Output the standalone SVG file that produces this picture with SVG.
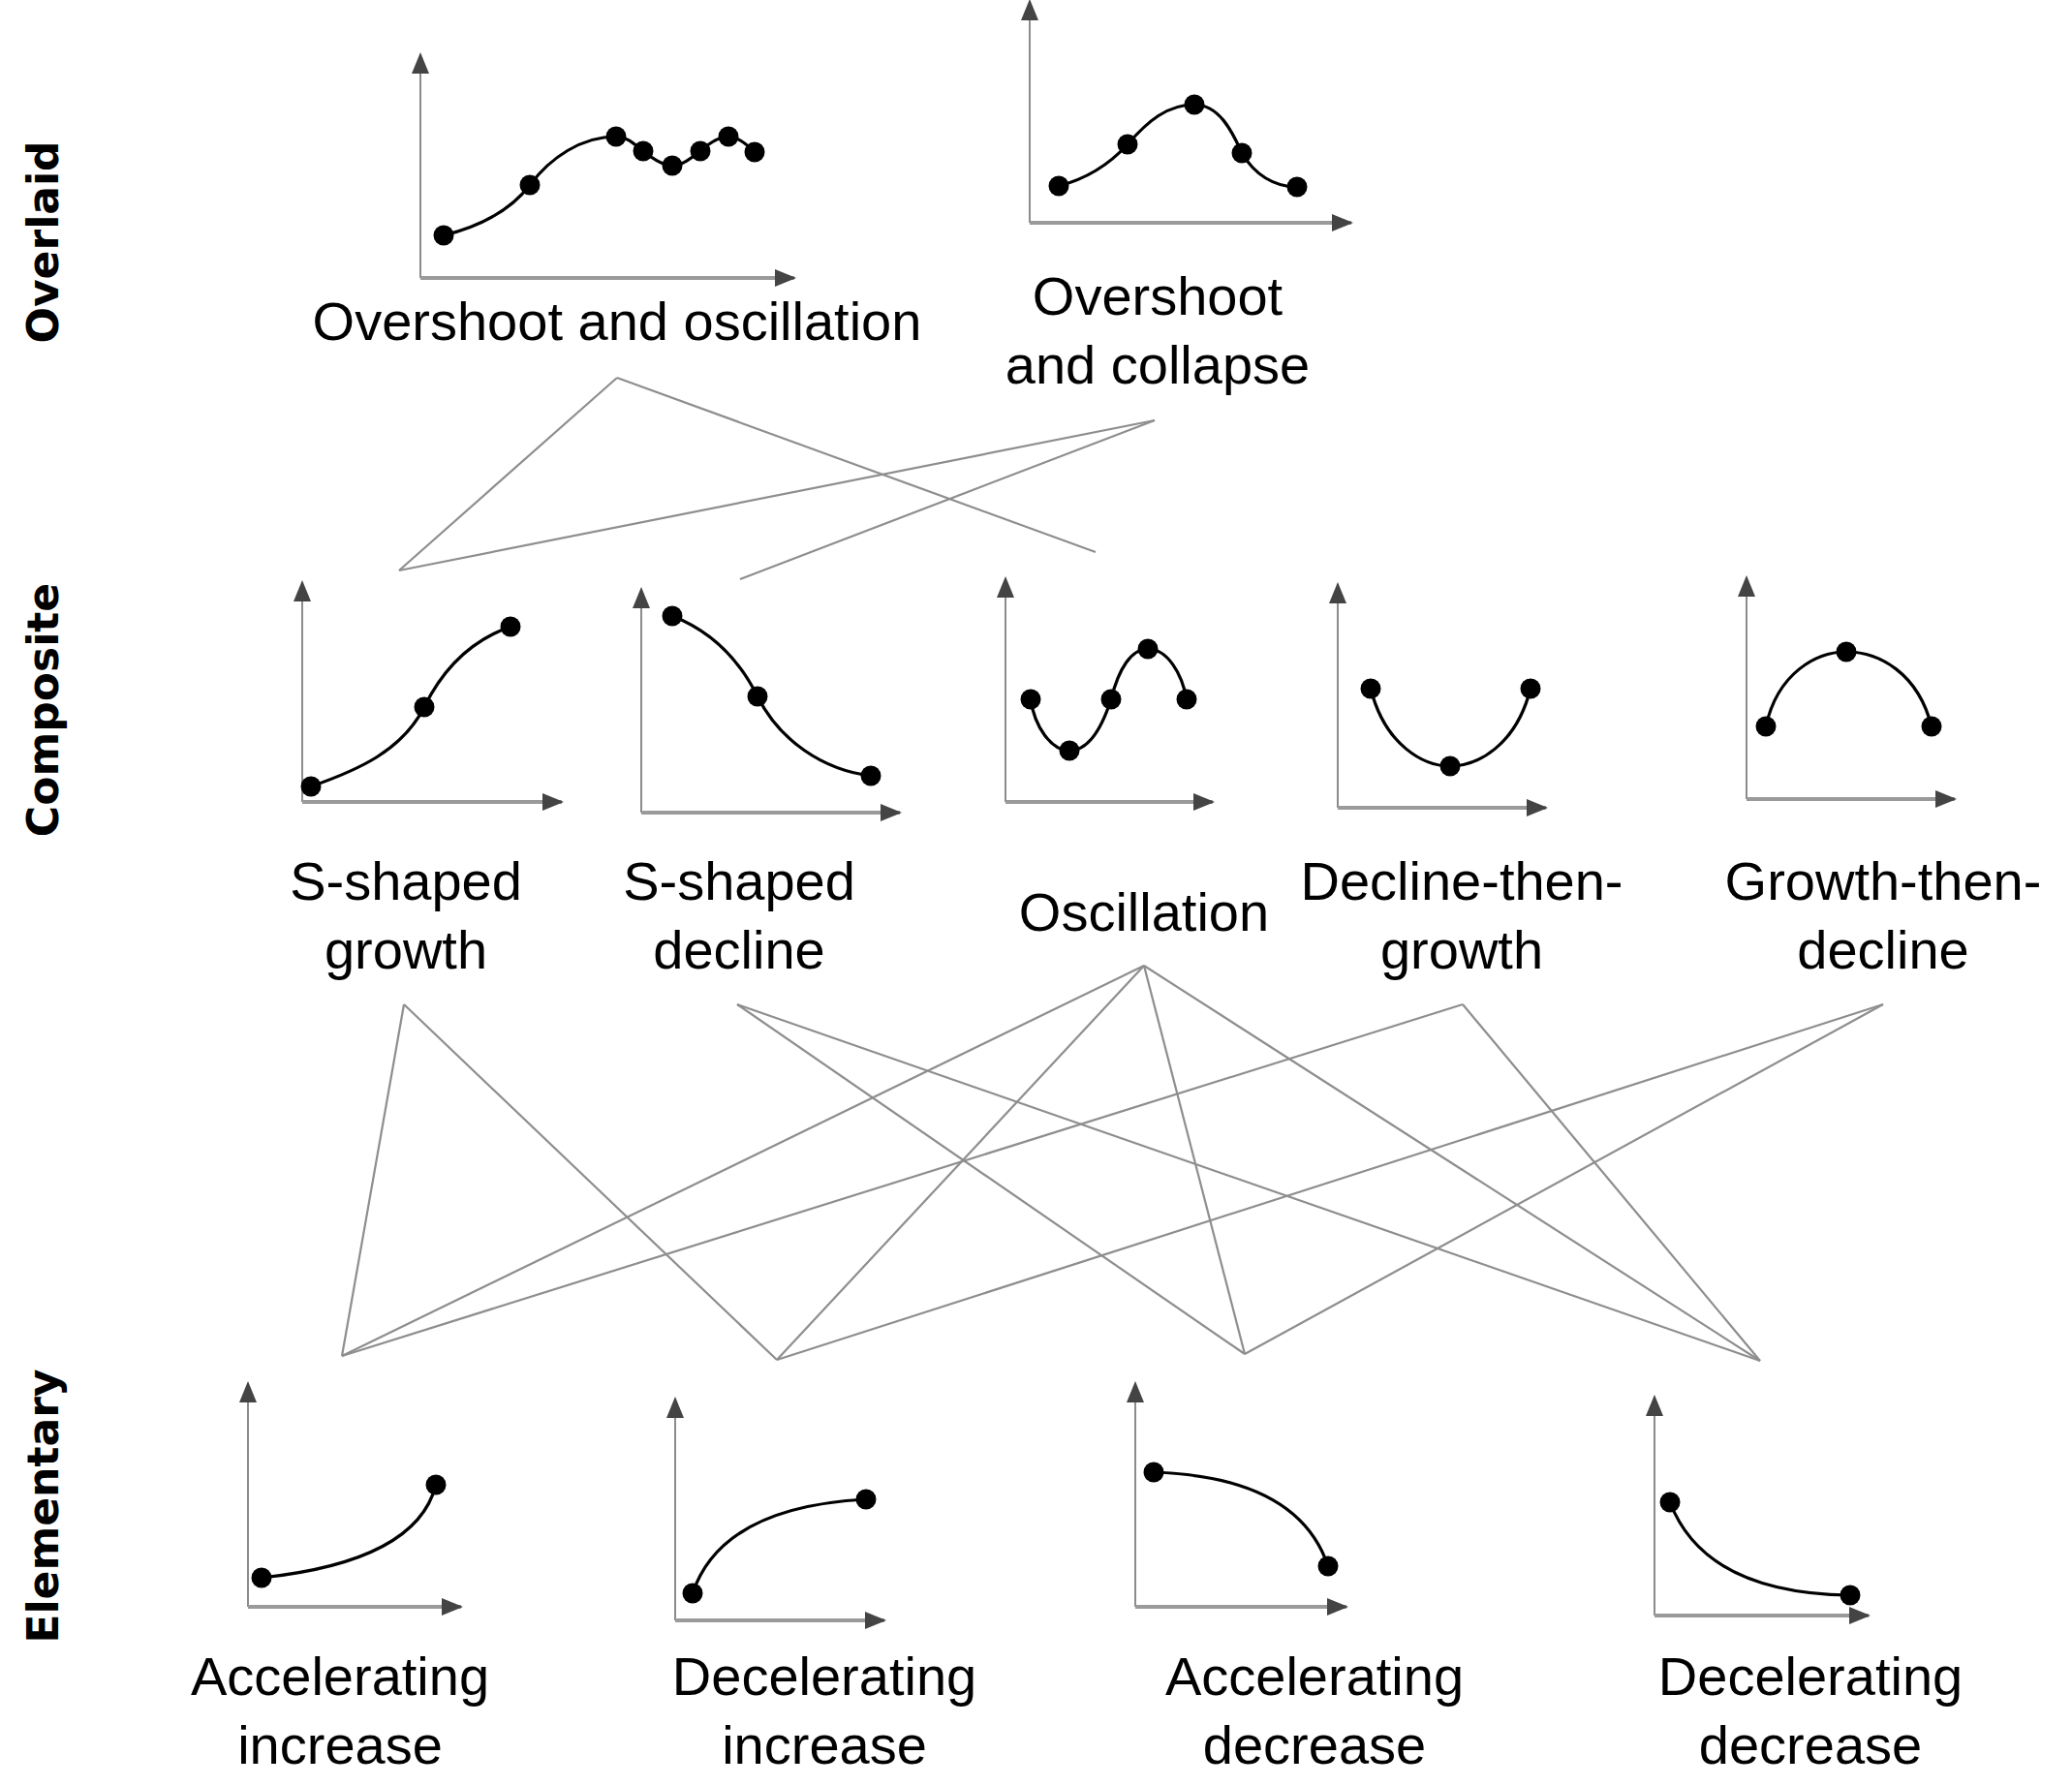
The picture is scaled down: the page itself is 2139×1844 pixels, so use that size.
<svg xmlns="http://www.w3.org/2000/svg" width="2139" height="1844" viewBox="0 0 2139 1844">
<defs>
<marker id="ah" markerUnits="userSpaceOnUse" markerWidth="24" markerHeight="20" refX="20" refY="9" orient="auto">
<path d="M0,0 L22,9 L0,18 Z" fill="#444"/>
</marker>
<style>
.yax{stroke:#8c8c8c;stroke-width:2;fill:none;marker-end:url(#ah)}
.xax{stroke:#9a9a9a;stroke-width:4;fill:none;marker-end:url(#ah)}
.crv{stroke:#000;stroke-width:3.2;fill:none}
.dot{fill:#000}
.lbl{font-family:"Liberation Sans",Arial,sans-serif;font-size:56px;fill:#000;text-anchor:middle}
.row{font-family:"DejaVu Sans",Verdana,sans-serif;font-weight:bold;font-size:44px;fill:#000;text-anchor:middle;dominant-baseline:central}
.con{stroke:#8e8e8e;stroke-width:2.2;fill:none}
</style>
</defs>
<rect width="2139" height="1844" fill="#fff"/>

<g id="row-labels">
<text class="row" transform="translate(44,250) rotate(-90)">Overlaid</text>
<text class="row" transform="translate(44,733) rotate(-90)">Composite</text>
<text class="row" transform="translate(44,1555) rotate(-90)">Elementary</text>
</g>

<g id="connectors">
<line class="con" x1="637" y1="390" x2="412" y2="589"/>
<line class="con" x1="637" y1="390" x2="1131" y2="570"/>
<line class="con" x1="1192" y1="434" x2="412" y2="589"/>
<line class="con" x1="1192" y1="434" x2="764" y2="598"/>

<line class="con" x1="417" y1="1037" x2="353" y2="1400"/>
<line class="con" x1="417" y1="1037" x2="802" y2="1404"/>
<line class="con" x1="761" y1="1037" x2="1285" y2="1398"/>
<line class="con" x1="761" y1="1037" x2="1817" y2="1405"/>
<line class="con" x1="1181" y1="997" x2="353" y2="1400"/>
<line class="con" x1="1181" y1="997" x2="802" y2="1404"/>
<line class="con" x1="1181" y1="997" x2="1285" y2="1398"/>
<line class="con" x1="1181" y1="997" x2="1817" y2="1405"/>
<line class="con" x1="1510" y1="1037" x2="353" y2="1400"/>
<line class="con" x1="1510" y1="1037" x2="1817" y2="1405"/>
<line class="con" x1="1944" y1="1037" x2="802" y2="1404"/>
<line class="con" x1="1944" y1="1037" x2="1285" y2="1398"/>
</g>

<g id="overshoot-and-oscillation">
<line class="yax" x1="434" y1="287" x2="434" y2="56"/>
<line class="xax" x1="434" y1="287" x2="820" y2="287"/>
<path class="crv" d="M458,243 C490,235 525,220 547,191 C568,163 600,141 636,141 C648,141 656,150 664,156 C674,164 684,171 694,171 C704,171 714,163 723,156 C732,148 742,141 752,141 C762,141 772,150 779,157"/>
<circle class="dot" cx="458" cy="243" r="10.5"/>
<circle class="dot" cx="547" cy="191" r="10.5"/>
<circle class="dot" cx="636" cy="141" r="10.5"/>
<circle class="dot" cx="664" cy="156" r="10.5"/>
<circle class="dot" cx="694" cy="171" r="10.5"/>
<circle class="dot" cx="723" cy="156" r="10.5"/>
<circle class="dot" cx="752" cy="141" r="10.5"/>
<circle class="dot" cx="779" cy="157" r="10.5"/>
<text class="lbl" x="637" y="351">Overshoot and oscillation</text>
</g>

<g id="overshoot-and-collapse">
<line class="yax" x1="1063" y1="230" x2="1063" y2="1"/>
<line class="xax" x1="1063" y1="230" x2="1395" y2="230"/>
<path class="crv" d="M1093,192 C1120,185 1145,170 1164,149 C1185,125 1205,108 1233,108 C1258,108 1272,135 1282,158 C1295,180 1315,193 1339,193"/>
<circle class="dot" cx="1093" cy="192" r="10.5"/>
<circle class="dot" cx="1164" cy="149" r="10.5"/>
<circle class="dot" cx="1233" cy="108" r="10.5"/>
<circle class="dot" cx="1282" cy="158" r="10.5"/>
<circle class="dot" cx="1339" cy="193" r="10.5"/>
<text class="lbl" x="1195" y="325">Overshoot</text>
<text class="lbl" x="1195" y="396">and collapse</text>
</g>

<g id="s-shaped-growth">
<line class="yax" x1="312" y1="828" x2="312" y2="601"/>
<line class="xax" x1="312" y1="828" x2="580" y2="828"/>
<path class="crv" d="M321,812 C370,795 415,775 438,730 C460,685 490,660 527,647"/>
<circle class="dot" cx="321" cy="812" r="10.5"/>
<circle class="dot" cx="438" cy="730" r="10.5"/>
<circle class="dot" cx="527" cy="647" r="10.5"/>
<text class="lbl" x="419" y="929">S-shaped</text>
<text class="lbl" x="419" y="1000">growth</text>
</g>

<g id="s-shaped-decline">
<line class="yax" x1="662" y1="839" x2="662" y2="608"/>
<line class="xax" x1="662" y1="839" x2="929" y2="839"/>
<path class="crv" d="M694,636 C730,650 760,675 782,719 C805,765 850,795 899,801"/>
<circle class="dot" cx="694" cy="636" r="10.5"/>
<circle class="dot" cx="782" cy="719" r="10.5"/>
<circle class="dot" cx="899" cy="801" r="10.5"/>
<text class="lbl" x="763" y="929">S-shaped</text>
<text class="lbl" x="763" y="1000">decline</text>
</g>

<g id="oscillation">
<line class="yax" x1="1038" y1="828" x2="1038" y2="597"/>
<line class="xax" x1="1038" y1="828" x2="1252" y2="828"/>
<path class="crv" d="M1064,722 C1068,750 1085,775 1104,775 C1125,775 1138,750 1147,722 C1155,690 1168,670 1185,670 C1205,670 1220,695 1225,722"/>
<circle class="dot" cx="1064" cy="722" r="10.5"/>
<circle class="dot" cx="1104" cy="775" r="10.5"/>
<circle class="dot" cx="1147" cy="722" r="10.5"/>
<circle class="dot" cx="1185" cy="670" r="10.5"/>
<circle class="dot" cx="1225" cy="722" r="10.5"/>
<text class="lbl" x="1181" y="961">Oscillation</text>
</g>

<g id="decline-then-growth">
<line class="yax" x1="1381" y1="834" x2="1381" y2="603"/>
<line class="xax" x1="1381" y1="834" x2="1596" y2="834"/>
<path class="crv" d="M1415,711 C1430,770 1470,791 1497,791 C1525,791 1565,770 1580,711"/>
<circle class="dot" cx="1415" cy="711" r="10.5"/>
<circle class="dot" cx="1497" cy="791" r="10.5"/>
<circle class="dot" cx="1580" cy="711" r="10.5"/>
<text class="lbl" x="1509" y="929">Decline-then-</text>
<text class="lbl" x="1509" y="1000">growth</text>
</g>

<g id="growth-then-decline">
<line class="yax" x1="1803" y1="825" x2="1803" y2="596"/>
<line class="xax" x1="1803" y1="825" x2="2018" y2="825"/>
<path class="crv" d="M1823,750 C1835,695 1875,673 1906,673 C1940,673 1980,695 1994,750"/>
<circle class="dot" cx="1823" cy="750" r="10.5"/>
<circle class="dot" cx="1906" cy="673" r="10.5"/>
<circle class="dot" cx="1994" cy="750" r="10.5"/>
<text class="lbl" x="1944" y="929">Growth-then-</text>
<text class="lbl" x="1944" y="1000">decline</text>
</g>

<g id="accelerating-increase">
<line class="yax" x1="256" y1="1659" x2="256" y2="1428"/>
<line class="xax" x1="256" y1="1659" x2="476" y2="1659"/>
<path class="crv" d="M270,1629 Q430,1612 450,1533"/>
<circle class="dot" cx="270" cy="1629" r="10.5"/>
<circle class="dot" cx="450" cy="1533" r="10.5"/>
<text class="lbl" x="351" y="1750">Accelerating</text>
<text class="lbl" x="351" y="1821">increase</text>
</g>

<g id="decelerating-increase">
<line class="yax" x1="697" y1="1673" x2="697" y2="1444"/>
<line class="xax" x1="697" y1="1673" x2="913" y2="1673"/>
<path class="crv" d="M715,1645 Q745,1556 894,1548"/>
<circle class="dot" cx="715" cy="1645" r="10.5"/>
<circle class="dot" cx="894" cy="1548" r="10.5"/>
<text class="lbl" x="851" y="1750">Decelerating</text>
<text class="lbl" x="851" y="1821">increase</text>
</g>

<g id="accelerating-decrease">
<line class="yax" x1="1172" y1="1659" x2="1172" y2="1428"/>
<line class="xax" x1="1172" y1="1659" x2="1390" y2="1659"/>
<path class="crv" d="M1191,1520 Q1340,1525 1371,1617"/>
<circle class="dot" cx="1191" cy="1520" r="10.5"/>
<circle class="dot" cx="1371" cy="1617" r="10.5"/>
<text class="lbl" x="1357" y="1750">Accelerating</text>
<text class="lbl" x="1357" y="1821">decrease</text>
</g>

<g id="decelerating-decrease">
<line class="yax" x1="1708" y1="1668" x2="1708" y2="1442"/>
<line class="xax" x1="1708" y1="1668" x2="1929" y2="1668"/>
<path class="crv" d="M1724,1551 Q1760,1645 1910,1647"/>
<circle class="dot" cx="1724" cy="1551" r="10.5"/>
<circle class="dot" cx="1910" cy="1647" r="10.5"/>
<text class="lbl" x="1869" y="1750">Decelerating</text>
<text class="lbl" x="1869" y="1821">decrease</text>
</g>
</svg>
